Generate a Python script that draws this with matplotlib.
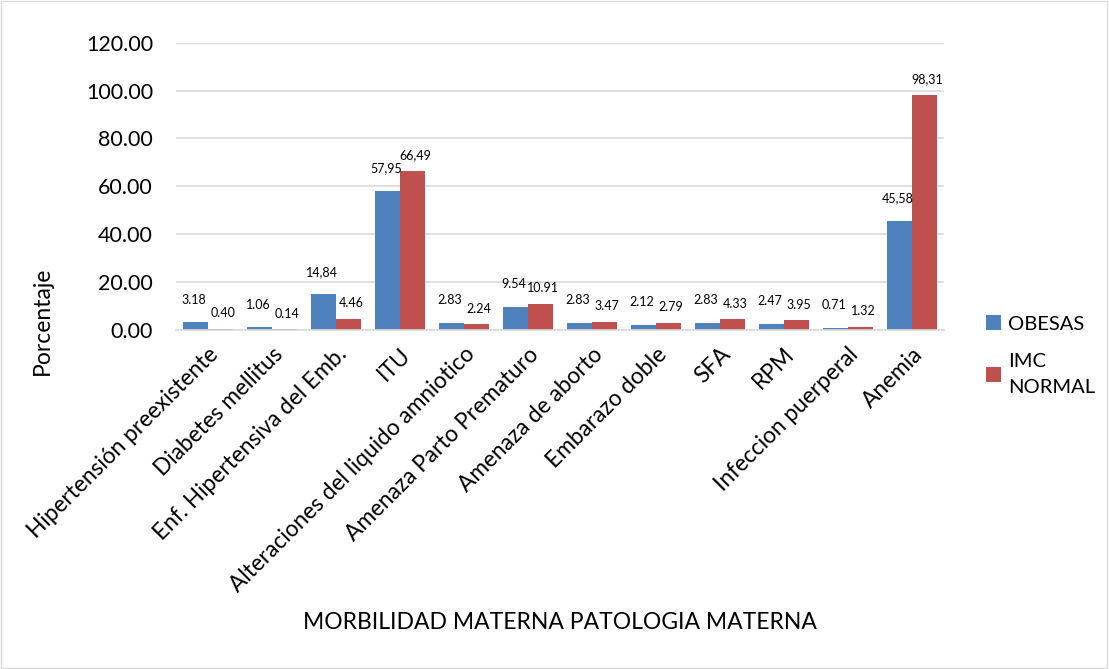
import numpy as np
import matplotlib.pyplot as plt

categorias = ["Hipertensión preexistente", "Diabetes mellitus", "Enf. Hipertensiva del Emb.",
              "ITU", "Alteraciones del liquido amniotico", "Amenaza Parto Prematuro",
              "Amenaza de aborto", "Embarazo doble", "SFA", "RPM", "Infeccion puerperal", "Anemia"]
obesas = [3.18, 1.06, 14.84, 57.95, 2.83, 9.54, 2.83, 2.12, 2.83, 2.47, 0.71, 45.58]
imc_normal = [0.40, 0.14, 4.46, 66.49, 2.24, 10.91, 3.47, 2.79, 4.33, 3.95, 1.32, 98.31]
etiq_obesas = ["3.18", "1.06", "14,84", "57,95", "2.83", "9.54", "2.83", "2.12", "2.83", "2.47", "0.71", "45,58"]
etiq_normal = ["0.40", "0.14", "4.46", "66,49", "2.24", "10.91", "3.47", "2.79", "4.33", "3.95", "1.32", "98,31"]

azul = "#4f81bd"
rojo = "#c0504d"

plt.rcParams['font.family'] = ['Lato', 'DejaVu Sans']

fig = plt.figure(figsize=(11.09, 6.69), dpi=100)
ax = fig.add_axes([0.1587, 0.507, 0.6925, 0.429])

x = np.arange(len(categorias))
w = 0.39
b1 = ax.bar(x - w / 2, obesas, w, color=azul, label="OBESAS")
b2 = ax.bar(x + w / 2, imc_normal, w, color=rojo, label="IMC\nNORMAL")

# etiquetas de datos sobre las barras
for barra, txt in zip(b1, etiq_obesas):
    ax.annotate(txt, (barra.get_x() + barra.get_width() / 2, barra.get_height()),
                xytext=(-1, 12), textcoords="offset points", ha="center", va="bottom", fontsize=9)
for barra, txt in zip(b2, etiq_normal):
    ax.annotate(txt, (barra.get_x() + barra.get_width() / 2, barra.get_height()),
                xytext=(2, 7), textcoords="offset points", ha="center", va="bottom", fontsize=9)

ax.set_ylim(0, 120)
ax.set_xlim(-0.5, len(categorias) - 0.5)
ax.set_yticks(np.arange(0, 121, 20))
ax.set_yticklabels([f"{v:.2f}" for v in np.arange(0, 121, 20)], fontsize=15.5)
ax.yaxis.grid(True, color="#d9d9d9", linewidth=1.2)
ax.set_axisbelow(True)
for s in ["top", "right", "left"]:
    ax.spines[s].set_visible(False)
ax.spines["bottom"].set_color("#d9d9d9")
ax.spines["bottom"].set_linewidth(1.2)
ax.tick_params(axis="both", length=0)
ax.tick_params(axis="y", pad=16.5)
ax.tick_params(axis="x", pad=10)
ax.set_xticks(x)
ax.set_xticklabels(categorias, rotation=45, ha="right", rotation_mode="anchor", fontsize=16.3)
ax.set_ylabel("Porcentaje", fontsize=16.5)
ax.yaxis.set_label_coords(-0.16, 0.03)
fig.text(0.505, 0.06, "MORBILIDAD MATERNA PATOLOGIA MATERNA", ha="center", fontsize=16.5)

leg = fig.legend(handles=[b1, b2], loc="upper left", bbox_to_anchor=(0.873, 0.556), frameon=False,
                 fontsize=14.5, handlelength=0.75, handleheight=0.75, handletextpad=0.35,
                 labelspacing=1.0)
leg.get_texts()[1].set_linespacing(1.65)

fig.patches.append(plt.Rectangle((0.001, 0.001), 0.997, 0.997, transform=fig.transFigure,
                                 fill=False, edgecolor="#d9d9d9", linewidth=1))

fig.savefig("out.png", dpi=100)
